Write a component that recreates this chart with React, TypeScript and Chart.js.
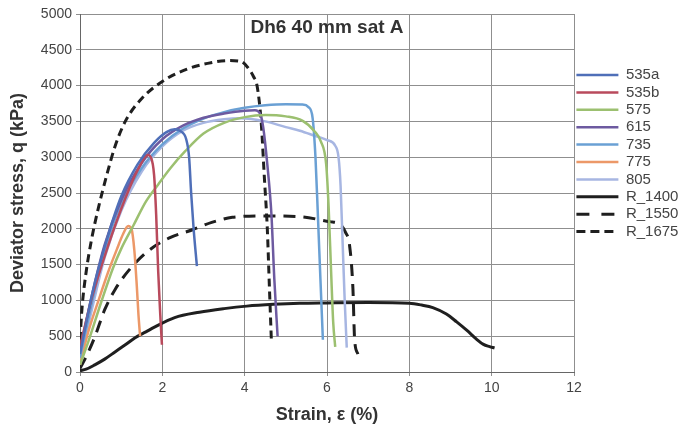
import React, { useEffect, useRef } from "react";
import { Chart, registerables } from "chart.js";

Chart.register(...registerables);

const seriesNames = ["535a", "535b", "575", "615", "735", "775", "805", "R_1400", "R_1550", "R_1675"];

const s535aX = [0, 0.3, 0.6, 1.0, 1.4, 1.8, 2.1, 2.3, 2.45, 2.58, 2.65, 2.7, 2.76, 2.84];
const s535aY = [250, 1100, 1750, 2450, 2900, 3200, 3350, 3390, 3360, 3250, 3000, 2500, 2000, 1480];

const s535bX = [0, 0.28, 0.68, 1.09, 1.4, 1.65, 1.72, 1.8, 1.85, 1.9, 1.95, 1.99];
const s535bY = [350, 1020, 1760, 2410, 2820, 3030, 3000, 2750, 2200, 1400, 800, 380];

const s575X = [0, 0.2, 0.5, 0.8, 1.0, 1.3, 1.6, 1.9, 2.2, 2.55, 3.0, 3.5, 4.0, 4.5, 5.0, 5.4, 5.7, 5.85, 5.98, 6.04, 6.1, 6.15, 6.2];
const s575Y = [100, 420, 950, 1450, 1720, 2050, 2380, 2620, 2850, 3080, 3330, 3480, 3560, 3590, 3570, 3510, 3360, 3220, 2900, 2300, 1400, 700, 350];

const s615X = [0, 0.3, 0.6, 1.0, 1.5, 2.0, 2.5, 3.0, 3.5, 4.0, 4.25, 4.38, 4.45, 4.55, 4.65, 4.72, 4.8];
const s615Y = [300, 1100, 1780, 2400, 2920, 3250, 3440, 3550, 3610, 3650, 3655, 3600, 3420, 2900, 2200, 1300, 500];

const s735X = [0, 0.3, 0.6, 1.0, 1.5, 2.0, 2.5, 3.0, 3.5, 4.0, 4.5, 5.0, 5.4, 5.55, 5.65, 5.72, 5.78, 5.84, 5.9];
const s735Y = [200, 1000, 1700, 2350, 2850, 3180, 3400, 3540, 3630, 3690, 3725, 3740, 3735, 3700, 3550, 3000, 2170, 1300, 450];

const s775X = [0, 0.2, 0.45, 0.68, 0.9, 1.05, 1.17, 1.25, 1.32, 1.38, 1.42, 1.46];
const s775Y = [100, 560, 1000, 1390, 1720, 1930, 2040, 2000, 1700, 1200, 800, 500];

const s805X = [0, 0.3, 0.6, 1.0, 1.5, 2.0, 2.5, 3.0, 3.5, 3.9, 4.5, 5.0, 5.34, 5.7, 6.0, 6.2, 6.28, 6.33, 6.38, 6.43, 6.48];
const s805Y = [150, 900, 1600, 2250, 2800, 3150, 3370, 3480, 3530, 3545, 3500, 3420, 3370, 3300, 3240, 3160, 3000, 2600, 1800, 1000, 340];

const r1400X = [0, 0.15, 0.36, 0.6, 0.85, 1.1, 1.33, 1.6, 1.82, 2.3, 2.9, 3.5, 4.05, 4.7, 5.34, 6.0, 7.0, 8.0, 8.3, 8.57, 8.9, 9.15, 9.4, 9.63, 9.8, 9.95, 10.07];
const r1400Y = [20, 40, 100, 180, 280, 380, 475, 560, 630, 760, 835, 885, 920, 945, 960, 965, 970, 960, 935, 900, 810, 700, 580, 460, 385, 355, 335];

const r1550X = [0, 0.15, 0.36, 0.6, 0.85, 1.2, 1.7, 2.2, 2.75, 3.2, 3.7, 4.5, 5.34, 6.07, 6.3, 6.45, 6.55, 6.63, 6.67, 6.75];
const r1550Y = [50, 215, 490, 870, 1150, 1430, 1710, 1880, 1990, 2090, 2160, 2180, 2170, 2100, 2070, 1950, 1760, 1160, 460, 250];

const r1675X = [0, 0.05, 0.15, 0.28, 0.45, 0.65, 0.85, 1.1, 1.5, 2.06, 2.6, 3.1, 3.6, 3.9, 4.08, 4.22, 4.3, 4.4, 4.48, 4.55, 4.6, 4.65];
const r1675Y = [450, 900, 1400, 1850, 2300, 2750, 3150, 3500, 3820, 4080, 4230, 4310, 4350, 4340, 4250, 4120, 4000, 3500, 2700, 2000, 1200, 420];

const xTicksMax = 12;
const xStep = 2;
const yTicksMax = 5000;
const yStep = 500;

const titleText = "Dh6 40 mm sat A";
const xTitle = "Strain, ε (%)";
const yTitle = "Deviator stress, q (kPa)";

const seriesX = [s535aX, s535bX, s575X, s615X, s735X, s775X, s805X, r1400X, r1550X, r1675X];
const seriesY = [s535aY, s535bY, s575Y, s615Y, s735Y, s775Y, s805Y, r1400Y, r1550Y, r1675Y];
const colors = ["#4f6fb8", "#b94a5c", "#9cc070", "#6d5aa0", "#6aa0d4", "#ec9868", "#a7b6e2", "#1f1f1f", "#1f1f1f", "#1f1f1f"];
const widths = [2.5, 2.5, 2.5, 2.5, 2.5, 2.5, 2.5, 3, 3, 3];
const dashes: number[][] = [[], [], [], [], [], [], [], [], [12, 8], [8, 5]];
const legendDashes: number[][] = [[], [], [], [], [], [], [], [], [13, 12], [9, 5]];

const FONT = "'Liberation Sans', Arial, sans-serif";

const innerTitle = {
  id: "innerTitle",
  afterDraw(chart: any) {
    const { ctx, chartArea } = chart;
    ctx.save();
    ctx.font = `bold 19px ${FONT}`;
    ctx.fillStyle = "#333333";
    ctx.textAlign = "center";
    ctx.textBaseline = "middle";
    ctx.fillText(titleText, (chartArea.left + chartArea.right) / 2, chartArea.top + 14);
    ctx.restore();
  },
};

export default function App() {
  const ref = useRef<HTMLCanvasElement | null>(null);

  useEffect(() => {
    if (!ref.current) return;
    const datasets = seriesNames.map((name, i) => ({
      label: name,
      data: seriesX[i].map((x, j) => ({ x, y: seriesY[i][j] })),
      borderColor: colors[i],
      backgroundColor: colors[i],
      borderWidth: widths[i],
      borderDash: dashes[i],
      pointRadius: 0,
      cubicInterpolationMode: "monotone" as const,
      fill: false,
    }));

    const chart = new Chart(ref.current, {
      type: "line",
      data: { datasets },
      plugins: [innerTitle],
      options: {
        animation: false,
        responsive: true,
        maintainAspectRatio: false,
        layout: { padding: { top: 14, left: 0, right: 0, bottom: 0 } },
        plugins: {
          tooltip: { enabled: false },
          title: { display: false },
          legend: {
            position: "right",
            align: "start",
            maxWidth: 110,
            title: { display: true, text: " ", padding: { top: 36.7, bottom: 0 }, font: { size: 12 } },
            labels: {
              usePointStyle: true,
              pointStyle: "line",
              pointStyleWidth: 42,
              boxWidth: 42,
              padding: 2.4,
              color: "#444444",
              font: { family: FONT, size: 15 },
              generateLabels: (c: any) => {
                const items = Chart.defaults.plugins.legend.labels.generateLabels(c);
                return items.map((it: any, i: number) => ({
                  ...it,
                  lineDash: legendDashes[i],
                  lineWidth: widths[i],
                  strokeStyle: colors[i],
                  fillStyle: colors[i],
                  pointStyle: "line",
                }));
              },
            },
          },
        },
        scales: {
          x: {
            type: "linear",
            min: 0,
            max: xTicksMax,
            afterFit: (s: any) => {
              s.height = 56;
            },
            ticks: {
              stepSize: xStep,
              color: "#444444",
              padding: 4,
              font: { family: FONT, size: 14 },
              callback: (v: any) => String(v),
            },
            grid: { color: "#8f8f8f", lineWidth: 1, tickLength: 4 },
            border: { color: "#666666", width: 1 },
            title: {
              display: true,
              text: xTitle,
              color: "#333333",
              font: { family: FONT, size: 18, weight: "bold" },
              padding: { top: 0, bottom: 2 },
            },
          },
          y: {
            type: "linear",
            min: 0,
            max: yTicksMax,
            afterFit: (s: any) => {
              s.width = 80;
            },
            ticks: {
              stepSize: yStep,
              color: "#444444",
              padding: 4,
              font: { family: FONT, size: 14 },
              callback: (v: any) => String(v),
            },
            grid: { color: "#8f8f8f", lineWidth: 1, tickLength: 4 },
            border: { color: "#666666", width: 1 },
            title: {
              display: true,
              text: yTitle,
              color: "#333333",
              font: { family: FONT, size: 18, weight: "bold" },
              padding: { top: 7, bottom: 0 },
            },
          },
        },
      },
    });
    return () => chart.destroy();
  }, []);

  return (
    <div style={{ position: "fixed", left: 0, top: 0, width: 684, height: 428, background: "#ffffff" }}>
      <canvas ref={ref} />
    </div>
  );
}
